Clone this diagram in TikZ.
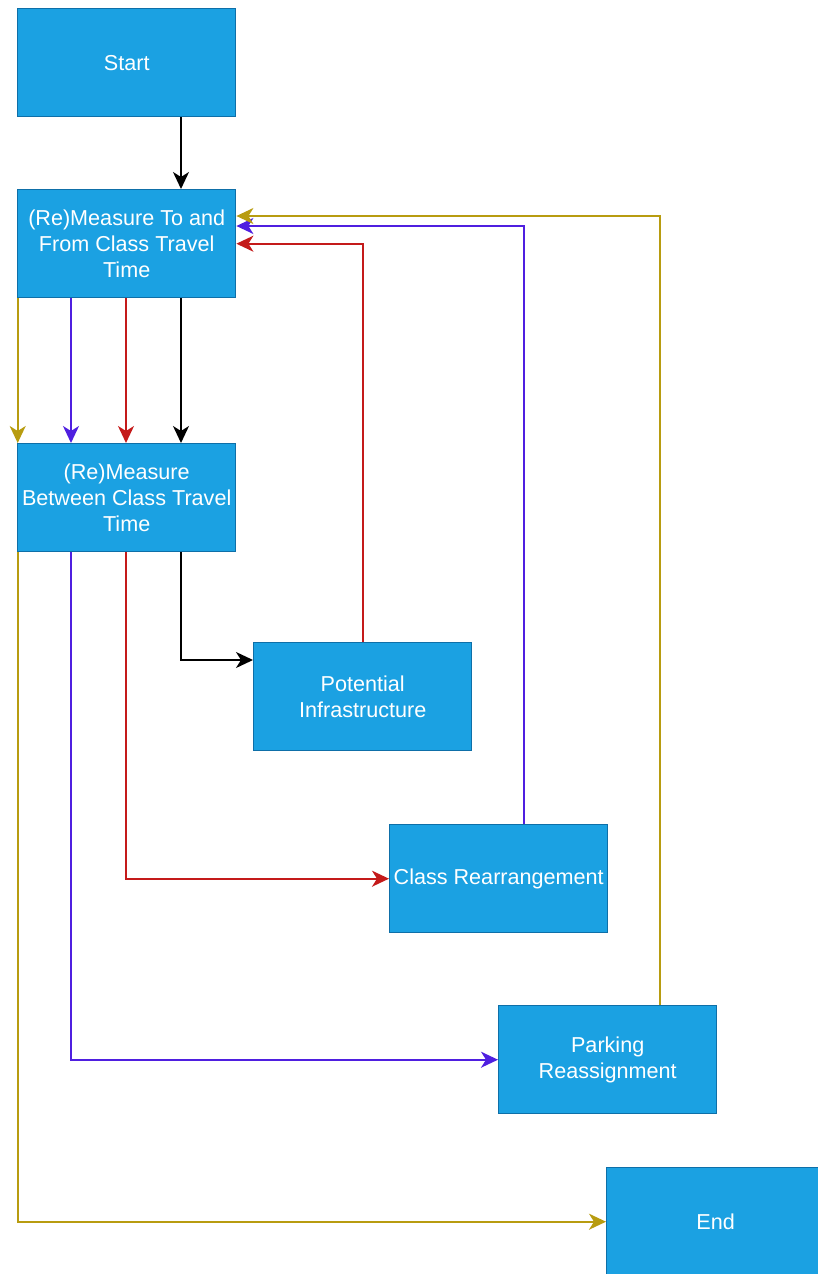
\documentclass[tikz,border=0pt]{standalone}
\usepackage{fontspec}
\setmainfont{Liberation Sans}
\usetikzlibrary{arrows.meta,calc}
\definecolor{boxfill}{HTML}{1BA1E2}
\definecolor{boxline}{HTML}{0E6FA8}
\definecolor{cyel}{HTML}{B89C10}
\definecolor{cpur}{HTML}{4F1FE0}
\definecolor{cred}{HTML}{C41A1A}
\definecolor{cblk}{HTML}{000000}
\begin{document}
\begin{tikzpicture}[x=1pt,y=-1pt,
  box/.style={draw=boxline,line width=1.4pt,fill=boxfill,anchor=north west,
    minimum width=218pt,minimum height=108pt,align=center,
    inner sep=0pt,text=white,font=\fontsize{21.6}{26}\selectfont},
  conn/.style={line width=1.7pt,-{Stealth[length=17pt,width=16pt,inset=5pt]}},
]
\useasboundingbox (0,0) rectangle (817,1274);
\node[box] (start) at (17,8) {Start};
\node[box] (m1) at (17,189) {(Re)Measure To and\\From Class Travel\\Time};
\node[box] (m2) at (17,443) {(Re)Measure\\Between Class Travel\\Time};
\node[box] (pi) at (253,642) {Potential\\Infrastructure};
\node[box] (cr) at (389,824) {Class Rearrangement};
\node[box] (pr) at (498,1005) {Parking\\Reassignment};
\node[box] (end) at (606,1167) {End};
% columns
\coordinate (cY) at (17.7,0);
\coordinate (cP) at (71,0);
\coordinate (cR) at (126,0);
\coordinate (cK) at (181,0);
\coordinate (xP) at (524,0);
\coordinate (xY) at (660,0);
\coordinate (yK) at (0,660);
\coordinate (yP) at (0,226);
\coordinate (yY) at (0,216);
% start -> m1
\draw[conn,cblk] (start.south -| cK) -- (m1.north -| cK);
% m1 -> m2
\draw[conn,cyel] (m1.south -| cY) -- (m2.north -| cY);
\draw[conn,cpur] (m1.south -| cP) -- (m2.north -| cP);
\draw[conn,cred] (m1.south -| cR) -- (m2.north -| cR);
\draw[conn,cblk] (m1.south -| cK) -- (m2.north -| cK);
% m2 -> targets
\draw[conn,cblk] (m2.south -| cK) |- (pi.west |- yK);
\draw[conn,cred] (m2.south -| cR) |- (cr.west);
\draw[conn,cpur] (m2.south -| cP) |- (pr.west);
\draw[conn,cyel] (m2.south -| cY) |- (end.west);
% feedback
\draw[conn,cred] (pi.north) |- (m1.east);
\draw[conn,cpur] (cr.north -| xP) |- (m1.east |- yP);
\draw[conn,cyel] (pr.north -| xY) |- (m1.east |- yY);
\end{tikzpicture}
\end{document}
